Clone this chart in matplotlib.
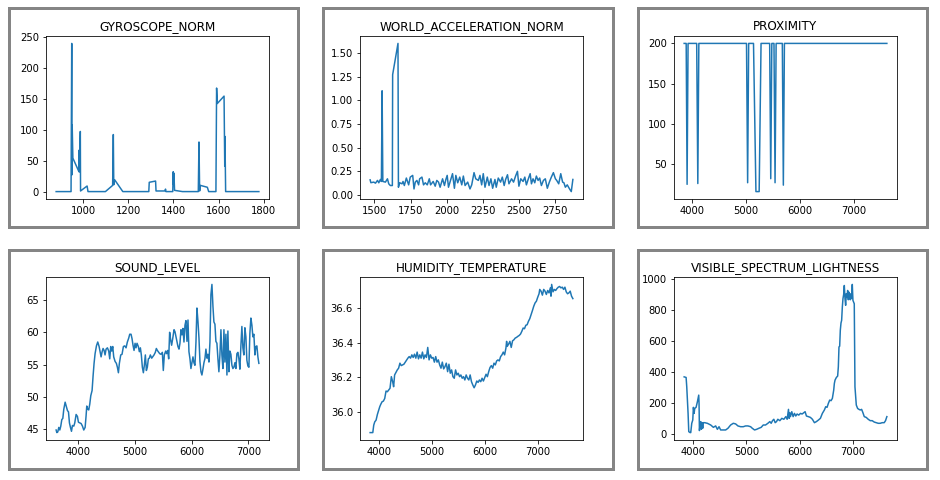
import matplotlib
matplotlib.use("Agg")
import matplotlib.pyplot as plt
from matplotlib.patches import Rectangle

# GYROSCOPE_NORM
gyro_x = [881, 947, 950, 951, 952, 955, 982, 983, 984, 988, 989, 1018, 1022,
          1099, 1131, 1134, 1136, 1140, 1176, 1291, 1293, 1321, 1323, 1362,
          1365, 1367, 1397, 1399, 1401, 1402, 1405, 1440, 1510, 1513, 1516,
          1519, 1550, 1556, 1588, 1591, 1594, 1624, 1627, 1628, 1631, 1778]
gyro_y = [1, 1, 240, 28, 108, 55, 33, 68, 33, 98, 2, 10, 1,
          1, 11, 93, 12, 20, 1, 1, 16, 18, 2, 2,
          5, 1, 1, 33, 12, 31, 3, 1, 1, 81, 2,
          11, 8, 1, 1, 168, 143, 155, 42, 90, 1, 1]

# WORLD_ACCELERATION_NORM
acc_x = [1470, 1475, 1495, 1507, 1521, 1530, 1541, 1548, 1553, 1558, 1576, 1590,
         1599, 1610, 1624, 1626, 1663, 1666, 1675, 1691, 1698, 1707, 1721, 1737,
         1748, 1765, 1774, 1783, 1794, 1806, 1813, 1829, 1840, 1852, 1866, 1880,
         1889, 1907, 1921, 1932, 1944, 1955, 1972, 1985, 1995, 2004, 2013, 2027,
         2041, 2054, 2064, 2077, 2091, 2105, 2116, 2128, 2146, 2162, 2174, 2190,
         2202, 2220, 2231, 2243, 2254, 2266, 2282, 2294, 2307, 2319, 2335, 2344,
         2358, 2374, 2386, 2399, 2409, 2422, 2432, 2450, 2464, 2478, 2491, 2501,
         2514, 2530, 2542, 2553, 2565, 2579, 2588, 2599, 2611, 2622, 2634, 2645,
         2657, 2671, 2684, 2698, 2712, 2726, 2740, 2754, 2763, 2777, 2791, 2804,
         2813, 2823, 2836, 2852, 2864, 2875]
acc_y = [0.16, 0.13, 0.136, 0.125, 0.154, 0.129, 0.164, 0.143, 1.10, 0.143, 0.136, 0.171,
         0.118, 0.10, 0.10, 1.27, 1.60, 0.082, 0.129, 0.118, 0.143, 0.10, 0.179, 0.107,
         0.189, 0.207, 0.064, 0.136, 0.154, 0.107, 0.171, 0.189, 0.107, 0.129, 0.107, 0.171,
         0.107, 0.143, 0.093, 0.154, 0.136, 0.082, 0.171, 0.10, 0.164, 0.207, 0.082, 0.154,
         0.225, 0.071, 0.207, 0.129, 0.189, 0.107, 0.20, 0.10, 0.136, 0.064, 0.107, 0.236,
         0.171, 0.154, 0.207, 0.107, 0.225, 0.082, 0.189, 0.10, 0.171, 0.071, 0.164, 0.082,
         0.179, 0.136, 0.189, 0.10, 0.164, 0.214, 0.118, 0.171, 0.136, 0.20, 0.25, 0.093,
         0.171, 0.143, 0.189, 0.107, 0.164, 0.225, 0.118, 0.171, 0.129, 0.20, 0.154, 0.179,
         0.10, 0.154, 0.171, 0.071, 0.136, 0.189, 0.236, 0.171, 0.154, 0.118, 0.225, 0.136,
         0.129, 0.082, 0.107, 0.064, 0.036, 0.164]

# PROXIMITY
prox_x = [3852, 3890, 3907, 3925, 4085, 4106, 4125, 5010, 5031, 5050, 5140,
          5185, 5245, 5280, 5440, 5460, 5480, 5520, 5540, 5560, 5675, 5694, 5714, 7616]
prox_y = [200, 200, 25, 200, 200, 26, 200, 200, 27, 200, 200,
          16, 16, 200, 200, 32, 200, 200, 27, 200, 200, 24, 200, 200]

# SOUND_LEVEL
sound_x = [3606, 3618, 3635, 3653, 3671, 3688, 3706, 3724, 3741, 3765, 3788, 3806,
           3824, 3841, 3859, 3877, 3894, 3918, 3935, 3959, 3982, 4000, 4024, 4047,
           4071, 4094, 4118, 4135, 4147, 4165, 4182, 4200, 4218, 4241, 4259, 4276,
           4294, 4318, 4341, 4365, 4382, 4400, 4418, 4435, 4453, 4470, 4488, 4512,
           4535, 4553, 4570, 4588, 4606, 4623, 4647, 4670, 4688, 4706, 4723, 4747,
           4770, 4794, 4817, 4841, 4864, 4888, 4906, 4929, 4947, 4964, 4982, 5000,
           5017, 5035, 5058, 5076, 5094, 5111, 5129, 5147, 5164, 5182, 5200, 5217,
           5235, 5252, 5270, 5294, 5311, 5335, 5358, 5376, 5394, 5411, 5435, 5458,
           5482, 5499, 5517, 5541, 5558, 5576, 5594, 5611, 5629, 5646, 5670, 5688,
           5705, 5723, 5740, 5758, 5776, 5793, 5811, 5829, 5846, 5864, 5882, 5899,
           5917, 5935, 5952, 5970, 5987, 6005, 6023, 6040, 6058, 6076, 6093, 6111,
           6129, 6146, 6164, 6181, 6199, 6217, 6234, 6252, 6270, 6287, 6305, 6323,
           6340, 6358, 6376, 6393, 6411, 6428, 6446, 6464, 6481, 6499, 6517, 6534,
           6552, 6570, 6587, 6605, 6623, 6640, 6658, 6675, 6693, 6711, 6728, 6746,
           6764, 6781, 6799, 6817, 6834, 6852, 6869, 6887, 6905, 6922, 6940, 6958,
           6975, 6993, 7011, 7028, 7046, 7064, 7081, 7099, 7117, 7134, 7152, 7170,
           7187]
sound_y = [44.9, 44.5, 44.6, 45.3, 44.9, 45.5, 46.5, 46.7, 48.1, 49.2, 48.5, 47.9,
           47.7, 46.0, 45.3, 44.7, 45.6, 45.5, 46.0, 47.3, 47.0, 46.1, 46.0, 45.9,
           45.5, 44.9, 45.3, 47.1, 48.6, 48.1, 48.0, 48.9, 50.2, 51.0, 53.3, 55.2,
           56.7, 57.9, 58.5, 57.8, 57.0, 56.2, 57.0, 57.5, 57.2, 56.5, 57.4, 57.6,
           57.1, 55.9, 57.8, 57.1, 57.8, 56.2, 55.5, 55.2, 54.6, 53.75, 55.2, 56.5,
           56.6, 57.8, 57.9, 57.6, 58.5, 59.1, 59.7, 59.7, 59.0, 58.0, 57.2, 58.3,
           57.6, 58.3, 57.8, 57.0, 57.6, 56.5, 54.6, 53.75, 54.9, 56.5, 54.1, 54.6,
           55.9, 56.0, 56.5, 56.0, 56.2, 56.5, 56.9, 57.5, 57.2, 57.0, 56.7, 56.6,
           56.9, 54.1, 56.5, 57.1, 56.7, 57.2, 55.9, 60.0, 58.8, 58.0, 59.3, 60.4,
           60.1, 59.3, 58.5, 57.8, 57.4, 58.3, 60.4, 59.6, 60.6, 58.5, 61.1, 61.8,
           58.6, 61.9, 57.0, 55.9, 54.4, 55.3, 56.2, 55.3, 54.9, 58.5, 63.75, 61.7,
           59.1, 55.5, 53.9, 53.4, 54.3, 55.3, 55.9, 57.4, 56.0, 56.6, 55.4, 58.5,
           65.8, 67.4, 64.0, 61.6, 61.25, 58.6, 58.3, 55.9, 53.9, 56.5, 60.4, 56.5,
           54.4, 60.4, 55.4, 59.7, 53.4, 60.2, 53.9, 57.1, 56.6, 54.9, 54.4, 54.6,
           55.3, 54.4, 56.7, 56.9, 55.9, 54.3, 57.8, 60.9, 57.6, 56.5, 60.7, 59.3,
           55.7, 54.8, 54.6, 59.8, 62.2, 61.1, 59.3, 59.7, 56.5, 57.8, 57.9, 56.2,
           55.2]

# HUMIDITY_TEMPERATURE
hum_x = [3838, 3888, 3906, 3925, 3950, 3975, 4000, 4019, 4038, 4063, 4088, 4113,
         4138, 4163, 4188, 4213, 4238, 4263, 4281, 4300, 4325, 4350, 4375, 4400,
         4425, 4450, 4475, 4500, 4525, 4550, 4575, 4600, 4625, 4650, 4675, 4700,
         4725, 4750, 4775, 4800, 4825, 4850, 4875, 4900, 4925, 4950, 4975, 5000,
         5025, 5050, 5075, 5100, 5125, 5150, 5175, 5200, 5225, 5250, 5275, 5300,
         5325, 5350, 5375, 5400, 5425, 5450, 5475, 5500, 5525, 5550, 5575, 5600,
         5625, 5650, 5675, 5700, 5725, 5750, 5775, 5800, 5825, 5850, 5875, 5900,
         5925, 5950, 5975, 6000, 6025, 6050, 6075, 6100, 6125, 6150, 6175, 6200,
         6225, 6250, 6275, 6300, 6325, 6350, 6375, 6400, 6413, 6425, 6450, 6475,
         6500, 6525, 6550, 6575, 6600, 6625, 6650, 6675, 6700, 6725, 6750, 6775,
         6800, 6825, 6850, 6875, 6900, 6925, 6950, 6975, 7000, 7025, 7038, 7063,
         7088, 7113, 7138, 7163, 7188, 7213, 7238, 7250, 7263, 7288, 7313, 7338,
         7363, 7388, 7413, 7438, 7463, 7488, 7513, 7538, 7563, 7588, 7613, 7638,
         7663]
hum_y = [35.880, 35.880, 35.923, 35.942, 35.952, 35.985, 36.010, 36.029, 36.043, 36.058, 36.062, 36.077,
         36.120, 36.116, 36.126, 36.136, 36.203, 36.174, 36.145, 36.213, 36.228, 36.242, 36.252, 36.281,
         36.267, 36.271, 36.275, 36.287, 36.300, 36.310, 36.319, 36.310, 36.329, 36.314, 36.333, 36.310,
         36.345, 36.306, 36.329, 36.310, 36.345, 36.306, 36.329, 36.314, 36.372, 36.300, 36.329, 36.310,
         36.314, 36.287, 36.319, 36.287, 36.300, 36.271, 36.252, 36.287, 36.248, 36.261, 36.281, 36.232,
         36.275, 36.223, 36.242, 36.203, 36.194, 36.242, 36.213, 36.223, 36.203, 36.213, 36.194, 36.203,
         36.184, 36.213, 36.194, 36.184, 36.213, 36.174, 36.155, 36.139, 36.155, 36.178, 36.170, 36.184,
         36.174, 36.194, 36.178, 36.197, 36.217, 36.203, 36.232, 36.256, 36.267, 36.252, 36.281, 36.271,
         36.294, 36.300, 36.294, 36.319, 36.329, 36.345, 36.329, 36.368, 36.407, 36.378, 36.391, 36.407,
         36.372, 36.410, 36.416, 36.426, 36.430, 36.436, 36.441, 36.449, 36.465, 36.484, 36.480, 36.500,
         36.503, 36.523, 36.538, 36.561, 36.585, 36.610, 36.629, 36.639, 36.662, 36.682, 36.707, 36.697,
         36.674, 36.707, 36.697, 36.678, 36.701, 36.687, 36.716, 36.668, 36.736, 36.693, 36.707, 36.701,
         36.712, 36.720, 36.724, 36.716, 36.720, 36.707, 36.720, 36.693, 36.682, 36.687, 36.697, 36.668,
         36.654]

# VISIBLE_SPECTRUM_LIGHTNESS
vis_x = [3832, 3869, 3881, 3906, 3919, 3944, 3956, 3975, 3994, 4006, 4019, 4031,
         4056, 4081, 4106, 4112, 4119, 4131, 4144, 4156, 4168, 4181, 4193, 4218,
         4268, 4331, 4381, 4424, 4456, 4487, 4518, 4568, 4612, 4655, 4705, 4755,
         4799, 4842, 4892, 4942, 4986, 5030, 5080, 5111, 5154, 5192, 5236, 5279,
         5317, 5360, 5404, 5441, 5466, 5491, 5516, 5541, 5566, 5591, 5629, 5666,
         5704, 5741, 5766, 5791, 5803, 5816, 5828, 5853, 5878, 5903, 5928, 5953,
         5984, 6016, 6047, 6078, 6103, 6128, 6165, 6203, 6240, 6278, 6315, 6353,
         6390, 6427, 6465, 6490, 6515, 6540, 6565, 6590, 6615, 6640, 6652, 6665,
         6690, 6714, 6727, 6739, 6752, 6764, 6777, 6789, 6802, 6814, 6827, 6839,
         6852, 6864, 6877, 6889, 6902, 6914, 6926, 6939, 6951, 6964, 6976, 6989,
         7001, 7014, 7026, 7039, 7051, 7064, 7089, 7114, 7139, 7164, 7189, 7214,
         7251, 7288, 7326, 7363, 7401, 7438, 7476, 7513, 7550, 7588, 7613, 7638]
vis_y = [371, 367, 307, 135, 17, 11, 11, 71, 92, 174, 135, 167,
         174, 210, 253, 200, 24, 60, 82, 32, 75, 39, 75, 75,
         71, 60, 45, 54, 32, 49, 28, 28, 28, 39, 60, 71,
         67, 54, 49, 49, 54, 54, 49, 39, 28, 32, 39, 45,
         60, 60, 71, 82, 71, 88, 97, 75, 82, 97, 88, 103,
         97, 114, 97, 161, 103, 139, 114, 146, 114, 135, 118, 131,
         124, 135, 131, 139, 146, 118, 114, 109, 97, 75, 82, 92,
         103, 135, 157, 178, 174, 200, 221, 217, 232, 285, 328, 350,
         367, 376, 436, 564, 569, 672, 719, 736, 822, 876, 903, 961,
         876, 833, 908, 886, 929, 869, 918, 886, 869, 908, 876, 968,
         865, 854, 843, 307, 253, 189, 167, 161, 157, 161, 139, 114,
         109, 97, 88, 88, 79, 75, 71, 71, 75, 75, 88, 114]

series = [
    ("GYROSCOPE_NORM", gyro_x, gyro_y),
    ("WORLD_ACCELERATION_NORM", acc_x, acc_y),
    ("PROXIMITY", prox_x, prox_y),
    ("SOUND_LEVEL", sound_x, sound_y),
    ("HUMIDITY_TEMPERATURE", hum_x, hum_y),
    ("VISIBLE_SPECTRUM_LIGHTNESS", vis_x, vis_y),
]

W, H = 940, 480
fig = plt.figure(figsize=(W / 72, H / 72), dpi=72, facecolor="white")

col_left = [46, 360, 674]
col_frame = [(8.5, 298.5), (322.5, 613), (637.5, 927)]
row_top = [36, 277]
row_frame = [(7.5, 226.5), (249.5, 468.5)]
ax_w, ax_h = 223, 163

for i, (title, xs, ys) in enumerate(series):
    r, c = divmod(i, 3)
    # grey frame around each panel
    fx0, fx1 = col_frame[c]
    fy0, fy1 = row_frame[r]
    fig.add_artist(Rectangle((fx0 / W, 1 - fy1 / H), (fx1 - fx0) / W, (fy1 - fy0) / H,
                             transform=fig.transFigure, fill=False,
                             edgecolor="#858585", linewidth=3))
    ax = fig.add_axes([col_left[c] / W, 1 - (row_top[r] + ax_h) / H, ax_w / W, ax_h / H])
    ax.plot(xs, ys, color="#1f77b4", linewidth=1.5)
    ax.set_title(title, fontsize=12)

fig.savefig("out.png", dpi=72, facecolor="white")
